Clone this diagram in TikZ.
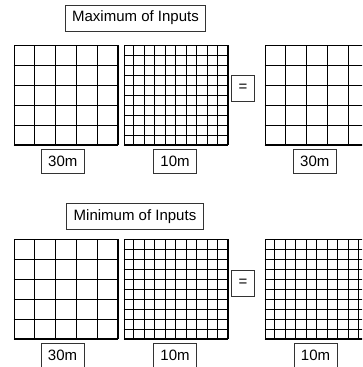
\documentclass[tikz,border=0pt]{standalone}
\usepackage{fontspec}
\setmainfont{Liberation Sans}
\usetikzlibrary{calc}

\tikzset{
  cellgrid/.style={draw, line width=1pt, minimum width=103.5pt, minimum height=99pt, inner sep=0pt},
  tagbox/.style={draw=black!80, line width=0.8pt, fill=white, inner xsep=7pt, inner ysep=0pt, minimum height=24pt, font=\fontsize{15}{18}\selectfont},
}

\begin{document}
\begin{tikzpicture}[x=1pt, y=-1pt]
    \useasboundingbox (0,0) rectangle (362,367);
    \clip (0,0) rectangle (362,367);

    % Maximum row
    \node[tagbox, minimum height=26pt] (maxtitle) at (135.5,18) {Maximum of Inputs};
    \node[cellgrid] (maxA) at (65.75,95) {};
    \node[cellgrid] (maxB) at (175.75,95) {};
    \node[cellgrid] (maxC) at (316.75,95) {};
    \node[tagbox, minimum height=26.5pt] (maxeq) at (243,88.3) {=};
    \node[tagbox] (maxlabA) at (62.8,161) {30m};
    \node[tagbox] (maxlabB) at (175,161) {10m};
    \node[tagbox] (maxlabC) at (314.8,161) {30m};

    % Minimum row
    \node[tagbox, minimum height=26pt] (mintitle) at (135,216.2) {Minimum of Inputs};
    \node[cellgrid] (minA) at (65.75,289.4) {};
    \node[cellgrid] (minB) at (175.75,289.4) {};
    \node[cellgrid] (minC) at (316.75,289.4) {};
    \node[tagbox, minimum height=26.5pt] (mineq) at (243,283.3) {=};
    \node[tagbox] (minlabA) at (62.5,355.3) {30m};
    \node[tagbox] (minlabB) at (175,355.3) {10m};
    \node[tagbox] (minlabC) at (315.5,355.3) {10m};

    % Cell lines
    \foreach \g/\n in {maxA/5, maxB/10, maxC/5, minA/5, minB/10, minC/10} {
        \foreach \i in {1,...,\n} {
            \draw[line width=1pt] ($(\g.north west)!\i/\n!(\g.north east)$) -- ($(\g.south west)!\i/\n!(\g.south east)$);
            \draw[line width=1pt] ($(\g.north west)!\i/\n!(\g.south west)$) -- ($(\g.north east)!\i/\n!(\g.south east)$);
        }
    }
\end{tikzpicture}
\end{document}
